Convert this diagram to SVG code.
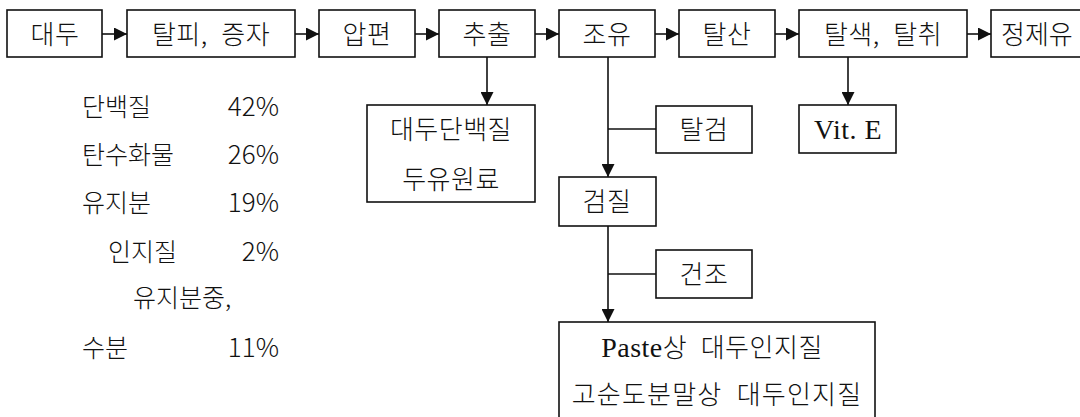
<svg xmlns="http://www.w3.org/2000/svg" width="1080" height="417" viewBox="0 0 1080 417">
<style>
.box{fill:#fff;stroke:#111;stroke-width:1.6}
.t{font-family:"Noto Sans CJK KR","Liberation Sans",sans-serif;font-size:26px;font-weight:300;fill:#111;text-anchor:middle;letter-spacing:0.5px}
.l{font-family:"Noto Sans CJK KR","Liberation Sans",sans-serif;font-size:25px;font-weight:300;fill:#111}
.n{font-family:"Noto Sans CJK KR","Liberation Sans",sans-serif;font-size:26px;font-weight:300;fill:#111;text-anchor:end}
.lat{font-family:"Liberation Serif",serif;font-size:28px;font-weight:400}
.c{stroke:#111;stroke-width:1.6;fill:none}
.ca{stroke:#111;stroke-width:1.6;fill:none;marker-end:url(#ah)}
</style>
<defs>
<marker id="ah" viewBox="0 0 12 12" refX="12" refY="6" markerWidth="13" markerHeight="13" markerUnits="userSpaceOnUse" orient="auto">
<path d="M0,0 L12,6 L0,12 z" fill="#111"/>
</marker>
</defs>
<g id="connectors">
<line class="ca" x1="102" y1="34" x2="127" y2="34"/>
<line class="ca" x1="295" y1="34" x2="319" y2="34"/>
<line class="ca" x1="415" y1="34" x2="439" y2="34"/>
<line class="ca" x1="535" y1="34" x2="559" y2="34"/>
<line class="ca" x1="655" y1="34" x2="679" y2="34"/>
<line class="ca" x1="775" y1="34" x2="799" y2="34"/>
<line class="ca" x1="967" y1="34" x2="991" y2="34"/>
<line class="ca" x1="487" y1="57" x2="487" y2="105"/>
<line class="ca" x1="608" y1="57" x2="608" y2="177"/>
<line class="c" x1="656" y1="129" x2="608" y2="129"/>
<line class="ca" x1="608" y1="226" x2="608" y2="322"/>
<line class="c" x1="656" y1="274" x2="608" y2="274"/>
<line class="ca" x1="848" y1="57" x2="848" y2="105"/>
</g>
<g id="n-daedu"><rect class="box" x="7" y="10" width="95" height="47"/><text class="t" x="55" y="44">대두</text></g>
<g id="n-talpi"><rect class="box" x="127" y="10" width="168" height="47"/><text class="t" x="211" y="44">탈피,&#8194;증자</text></g>
<g id="n-apyeon"><rect class="box" x="319" y="10" width="96" height="47"/><text class="t" x="367" y="44">압편</text></g>
<g id="n-chuchul"><rect class="box" x="439" y="10" width="96" height="47"/><text class="t" x="487" y="44">추출</text></g>
<g id="n-joyu"><rect class="box" x="559" y="10" width="96" height="47"/><text class="t" x="607" y="44">조유</text></g>
<g id="n-talsan"><rect class="box" x="679" y="10" width="96" height="47"/><text class="t" x="727" y="44">탈산</text></g>
<g id="n-talsaek"><rect class="box" x="799" y="10" width="168" height="47"/><text class="t" x="883" y="44">탈색,&#8194;탈취</text></g>
<g id="n-jeongjeyu"><rect class="box" x="991" y="10" width="100" height="47"/><text class="l" x="1001" y="44" style="font-size:26px">정제유</text></g>
<g id="n-protein"><rect class="box" x="367" y="105" width="168" height="97"/><text class="t" x="451" y="139">대두단백질</text><text class="t" x="451" y="189">두유원료</text></g>
<g id="n-talgeom"><rect class="box" x="656" y="106" width="96" height="47"/><text class="t" x="704" y="139">탈검</text></g>
<g id="n-geomjil"><rect class="box" x="559" y="177" width="97" height="49"/><text class="t" x="607" y="211">검질</text></g>
<g id="n-geonjo"><rect class="box" x="656" y="250" width="96" height="48"/><text class="t" x="704" y="284">건조</text></g>
<g id="n-vite"><rect class="box" x="799" y="105" width="97" height="48"/><text class="t lat" x="848" y="139">Vit. E</text></g>
<g id="n-lecithin"><rect class="box" x="559" y="322" width="316" height="110"/><text class="t" x="712" y="357"><tspan class="lat">Paste</tspan>상&#8194;대두인지질</text><text class="t" x="717" y="404" style="letter-spacing:1.2px">고순도분말상&#8194;대두인지질</text></g>
<g id="composition">
<text class="l" x="82" y="116">단백질</text><text class="n" x="279" y="116">42%</text>
<text class="l" x="82" y="164">탄수화물</text><text class="n" x="279" y="164">26%</text>
<text class="l" x="82" y="212">유지분</text><text class="n" x="279" y="212">19%</text>
<text class="l" x="108" y="261">인지질</text><text class="n" x="279" y="261">2%</text>
<text class="l" x="133" y="307">유지분중,</text>
<text class="l" x="82" y="357">수분</text><text class="n" x="279" y="357">11%</text>
</g>
</svg>
